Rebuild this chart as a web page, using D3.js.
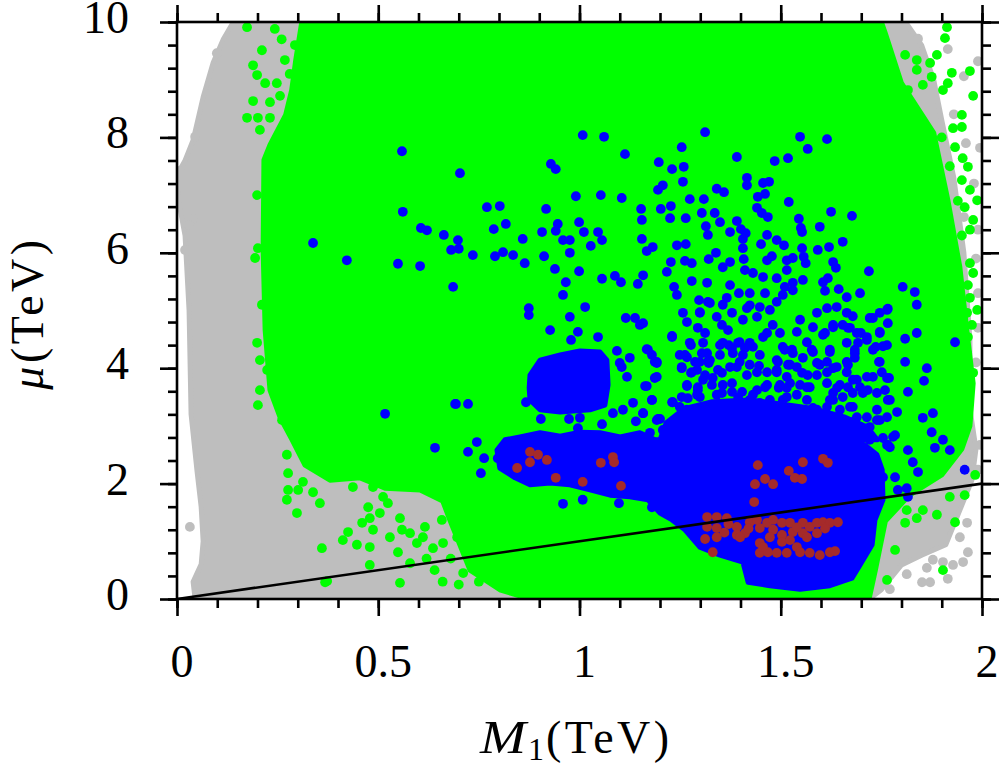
<!DOCTYPE html>
<html>
<head>
<meta charset="utf-8">
<script src="https://cdn.jsdelivr.net/npm/d3@7"></script>
<style>
  body { margin: 0; background: #fff; }
  svg { display: block; }
  text { font-family: "Liberation Serif", "DejaVu Serif", serif; fill: #000; }
</style>
</head>
<body>
<svg id="chart" width="999" height="767"></svg>
<script>
// M1 (TeV), mu (TeV)

// dense regions (outline of the solid clouds)
const grayArea = [[0.14,10],[1.81,10],[1.85,9.6],[1.88,9.0],[1.9,8.3],[1.93,7.3],[1.955,6.0],[1.97,4.5],[1.97,3.3],[1.985,2.6],[1.975,2.06],[1.945,1.54],[1.91,0.94],[1.85,0.76],[1.8,0.59],[1.75,0.16],[1.72,0],[0.045,0],[0.04,0.3],[0.06,0.6],[0.065,1.0],[0.06,1.6],[0.05,2.2],[0.035,3.2],[0.03,5.0],[0.02,6.3],[0.004,6.9],[0.0,7.35],[0.02,7.6],[0.04,7.95],[0.065,8.7],[0.09,9.3],[0.115,9.7]];

const greenArea = [[0.31,10],[1.75,10],[1.76,9.8],[1.8,8.94],[1.88,8.08],[1.915,6.92],[1.945,5.75],[1.963,4.61],[1.978,3.74],[1.97,3.0],[1.95,2.6],[1.9,2.15],[1.82,1.8],[1.76,1.35],[1.735,0.5],[1.72,0.02],[0.877,0.0],[0.802,0.16],[0.728,0.5],[0.678,1.37],[0.66,1.7],[0.604,1.89],[0.517,1.92],[0.455,2.1],[0.38,2.06],[0.318,2.32],[0.286,2.76],[0.256,3.15],[0.231,3.62],[0.219,4.66],[0.214,6.05],[0.216,7.61],[0.231,7.87],[0.27,8.39],[0.285,8.82],[0.295,9.34]];

const blueBlobA = [[0.877,3.88],[0.902,4.14],[0.952,4.23],[1.001,4.3],[1.051,4.28],[1.068,4.14],[1.071,3.71],[1.063,3.36],[1.026,3.28],[0.952,3.24],[0.902,3.28],[0.877,3.45],[0.875,3.66]];

const blueBlobB = [[0.795,2.58],[0.815,2.76],[0.852,2.81],[0.902,2.88],[0.952,2.82],[1.001,2.89],[1.051,2.88],[1.101,2.81],[1.15,2.88],[1.188,2.76],[1.225,2.76],[1.275,2.81],[1.324,2.76],[1.374,2.81],[1.424,2.76],[1.473,2.81],[1.523,2.76],[1.573,2.81],[1.622,2.76],[1.672,2.76],[1.709,2.67],[1.739,2.5],[1.752,2.24],[1.754,1.72],[1.734,1.37],[1.727,0.94],[1.697,0.59],[1.677,0.36],[1.622,0.23],[1.548,0.17],[1.473,0.23],[1.419,0.29],[1.406,0.64],[1.349,0.76],[1.299,0.9],[1.262,1.2],[1.23,1.37],[1.2,1.49],[1.17,1.72],[1.125,1.77],[1.076,1.8],[1.026,1.89],[0.976,1.98],[0.927,2.01],[0.877,1.98],[0.84,2.1],[0.802,2.27]];

// densest strip of the blue scatter just above the big blob
const blueCore = [[1.2,2.76],[1.215,3.05],[1.26,3.3],[1.33,3.42],[1.42,3.45],[1.5,3.38],[1.58,3.3],[1.66,3.15],[1.715,2.98],[1.74,2.76]];

// single points outside / on top of the dense regions
const grayDots = [[0.099,9.46],[0.045,8.01],[0.007,7.42],[0.04,6.59],[0.03,6.48],[0.02,6.05],[0.032,1.25],[1.841,9.71],[1.915,9.53],[1.99,9.32],[1.955,9.06],[1.995,7.82],[1.955,6.62],[1.851,0.29],[1.871,0.29],[1.915,0.35],[1.928,0.59],[1.953,0.64],[1.903,0.64],[1.965,0.81],[1.771,0.17],[1.813,0.43],[1.863,0.54],[1.878,0.68],[1.995,2.67],[1.97,2.41],[1.99,2.24],[1.963,1.32],[1.945,1.07],[1.99,5.3],[1.985,4.1],[1.99,6.4],[1.93,8.4],[1.96,7.9],[1.98,7.2],[1.985,5.9],[1.99,4.7]];

const greenDots = [[0.174,9.91],[0.243,9.88],[0.211,9.51],[0.189,9.25],[0.199,9.08],[0.219,8.94],[0.248,8.94],[0.256,8.72],[0.231,8.61],[0.189,8.63],[0.201,8.34],[0.231,8.34],[0.206,8.13],[0.174,8.34],[0.268,9.34],[0.293,9.6],[0.26,9.7],[0.28,9.1],[0.199,7.0],[0.201,6.08],[0.194,5.91],[0.211,5.1],[0.199,4.44],[0.206,4.14],[0.224,3.97],[0.206,3.62],[0.201,3.36],[0.251,3.5],[0.261,3.1],[0.273,2.5],[0.276,2.18],[0.276,1.89],[0.273,1.72],[0.298,1.49],[0.301,1.89],[0.313,2.03],[0.338,1.85],[0.355,1.66],[0.36,0.88],[0.368,0.29],[0.412,1.02],[0.425,1.16],[0.447,0.94],[0.46,1.32],[0.479,1.4],[0.487,1.2],[0.479,0.9],[0.479,0.59],[0.475,1.59],[0.504,1.49],[0.524,1.66],[0.529,1.07],[0.554,1.4],[0.559,1.2],[0.549,0.81],[0.579,1.14],[0.596,0.97],[0.611,1.07],[0.616,1.25],[0.636,0.88],[0.579,0.62],[0.554,0.28],[0.658,1.37],[0.661,0.97],[0.696,1.07],[0.711,0.45],[0.43,2.18],[0.412,2.41],[0.437,1.94],[0.487,1.94],[0.512,1.77],[0.373,0.31],[0.64,0.5],[0.68,0.7],[0.7,0.25],[0.75,0.3],[0.62,0.7],[0.66,0.3],[1.809,9.43],[1.838,9.34],[1.838,9.17],[1.871,9.29],[1.888,9.43],[1.908,9.72],[1.913,9.91],[1.97,9.15],[1.978,8.72],[1.925,9.12],[1.915,8.94],[1.903,8.82],[1.875,9.05],[1.853,8.91],[1.816,8.82],[1.95,8.39],[1.95,8.18],[1.928,8.16],[1.933,7.83],[1.952,7.64],[1.965,7.49],[1.95,7.26],[1.97,7.09],[1.988,6.91],[1.957,6.79],[1.978,6.57],[1.97,6.4],[1.97,5.82],[1.978,5.65],[1.965,5.44],[1.97,5.22],[1.988,5.01],[1.963,4.96],[1.975,4.75],[1.965,4.54],[1.963,4.26],[1.978,3.92],[1.97,3.74],[1.92,1.77],[1.933,1.33],[1.903,0.5],[1.764,0.33],[1.784,0.85],[1.809,1.32],[1.838,1.4],[1.888,1.46],[1.853,1.54],[1.813,1.54],[1.957,1.8],[1.983,2.15],[1.9,8.0],[1.92,7.5],[1.94,6.9],[1.95,6.3]];

const blueDots = [[0.559,7.76],[0.703,7.38],[0.561,6.71],[0.770,6.79],[0.802,6.81],[0.338,6.17],[0.422,5.87],[0.549,5.81],[0.604,5.77],[0.606,6.43],[0.621,6.39],[0.663,6.31],[0.698,6.22],[0.681,6.05],[0.7,6.07],[0.735,5.96],[0.787,6.41],[0.79,5.94],[0.686,5.41],
[0.517,3.21],[0.693,3.38],[0.723,3.38],[0.641,2.62],[0.723,2.55],[0.745,2.72],[0.763,2.44],[0.755,2.18],[0.797,2.44],
[1.312,8.09],[1.008,8.04],[1.061,8.01],[1.254,7.83],[1.548,8.01],[1.615,7.97],[1.567,7.8],[1.113,7.71],[1.391,7.66],[1.197,7.57],[1.485,7.59],[1.518,7.64],[0.929,7.54],[0.941,7.45],[1.23,7.45],[1.259,7.49],[1.257,7.23],[1.207,7.17],[1.195,7.09],[1.416,7.3],[1.416,7.17],[1.456,7.21],[1.471,7.23],[1.341,7.11],[1.359,7.05],[0.991,6.98],[1.053,7.0],[1.105,6.95],[1.274,6.93],[1.309,6.93],[1.443,6.97],[1.461,7.02],[1.52,6.88],
[0.917,6.76],[1.153,6.76],[1.202,6.76],[1.227,6.81],[1.625,6.71],[1.677,6.64],[1.441,6.78],[1.453,6.69],[1.468,6.62],[0.817,6.5],[0.999,6.53],[0.946,6.5],[0.941,6.38],[0.907,6.36],[1.011,6.36],[1.046,6.36],[1.155,6.57],[1.225,6.6],[1.264,6.6],[1.304,6.69],[1.336,6.69],[1.314,6.46],[1.349,6.53],[1.391,6.55],[1.401,6.41],[1.413,6.34],[1.545,6.59],[1.55,6.43],[1.553,6.36],[1.597,6.45],
[0.859,6.24],[0.959,6.22],[0.976,6.22],[1.056,6.22],[1.028,6.12],[1.155,6.24],[1.182,6.1],[1.167,6.03],[1.242,6.13],[1.264,6.15],[1.319,6.31],[1.374,6.36],[1.406,6.24],[1.406,6.08],[1.466,6.31],[1.451,6.15],[1.49,6.22],[1.508,6.13],[1.553,6.08],[1.592,6.05],[1.62,6.1],[1.654,6.19],
[0.81,6.01],[0.835,5.96],[0.912,5.94],[0.976,6.0],[0.864,5.82],[0.939,5.72],[0.999,5.68],[0.966,5.49],[1.056,5.55],[1.088,5.6],[1.103,5.49],[1.145,5.46],[1.158,5.61],[1.227,5.84],[1.217,5.67],[1.262,5.86],[1.279,5.82],[1.321,5.89],[1.339,6.0],[1.356,5.75],[1.374,5.84],[1.408,5.89],[1.411,5.7],[1.431,5.65],[1.456,5.58],[1.466,5.87],[1.478,5.94],[1.515,5.87],[1.515,5.7],[1.53,5.91],[1.562,5.82],[1.557,5.93],[1.63,5.84],[1.637,5.74],[1.719,5.68],
[1.49,5.56],[1.51,5.41],[1.53,5.48],[1.555,5.53],[1.605,5.49],[1.617,5.56],[1.61,5.34],[1.644,5.37],[1.664,5.23],[1.697,5.3],[1.803,5.41],[1.833,5.32],[1.838,5.1],
[0.874,5.04],[0.874,4.92],[0.959,5.27],[1.014,5.06],[0.976,4.89],[0.927,4.66],[0.996,4.63],[0.979,4.49],[1.046,4.54],[1.115,4.87],[1.138,4.87],[1.15,4.75],[1.23,4.56],[1.093,4.3],[1.167,4.33],[1.18,4.23],[1.187,4.11],[1.125,4.18],[1.1,4.09],[1.118,3.85],[1.192,3.85],[1.167,3.69],
[1.235,5.41],[1.242,5.27],[1.279,5.51],[1.317,5.48],[1.297,5.18],[1.319,5.15],[1.299,4.97],[1.374,5.44],[1.396,5.3],[1.423,5.3],[1.366,5.22],[1.356,5.1],[1.379,4.96],[1.416,5.04],[1.461,5.3],[1.49,5.15],[1.505,5.27],[1.53,5.35],
[1.679,4.9],[1.721,4.87],[1.746,4.96],[1.766,5.03],[1.766,4.78],[1.746,4.63],[1.63,4.75],[1.667,4.7],[1.699,4.61],[1.714,4.54],[1.605,4.58],[1.622,4.32],[1.684,4.32],[1.684,4.18],[1.667,4.06],[1.736,4.37],[1.754,4.38],[1.809,4.51],[1.838,4.61],[1.809,4.11],[1.863,4.0],[1.856,3.78],[1.816,3.59],[1.933,4.45],[1.744,4.11],[1.751,3.93],[1.769,3.83],[1.714,3.85],[1.689,3.8],[1.63,4.0],[1.597,4.06],[1.58,4.28],[1.53,4.26],[1.51,4.32],[1.49,4.14],[1.523,4.06],[1.49,3.97],[1.466,3.93],[1.446,4.04],[1.431,4.37],[1.411,4.35],[1.394,4.44],[1.381,4.26],[1.398,4.11],[1.374,4.02],[1.354,3.92],[1.331,3.83],[1.307,3.8],[1.292,3.97],[1.287,4.11],[1.267,4.19],[1.249,4.23],[1.254,4.02],[1.277,4.4],[1.304,4.26],[1.321,4.14],
[1.553,3.92],[1.567,3.88],[1.565,3.67],[1.523,3.74],[1.495,3.66],[1.461,3.67],[1.431,3.54],[1.379,3.59],[1.354,3.57],[1.292,3.54],[1.254,3.5],[1.63,3.57],[1.667,3.67],[1.716,3.62],[1.759,3.62],
[0.691,3.38],[0.867,3.41],[0.904,3.12],[0.974,3.12],[1.001,3.14],[0.996,2.96],[1.056,3.03],[1.105,4.02],[1.18,3.45],[1.133,3.4],[1.108,3.28],[1.083,3.22],[1.158,3.22],[1.14,3.08],[1.215,2.95],[1.2,3.12],[1.23,3.41],[1.249,3.33],[1.257,3.15],[1.294,3.29],[1.336,3.24],[1.341,3.07],[0.959,1.65],[1.008,1.72],[1.098,1.66],[1.18,1.59],[1.192,4.09],[1.277,3.92],[1.267,3.69],[1.294,3.62],[1.307,4.44],[1.317,4.26],[1.344,3.97],[1.321,4.09],[1.379,3.74],[1.404,3.59],[1.349,4.4],[1.371,4.4],
[1.257,3.22],[1.282,3.22],[1.366,2.98],[1.391,3.15],[1.423,3.14],[1.448,2.98],[1.515,3.5],[1.53,3.05],[1.565,3.24],[1.59,3.28],[1.605,3.05],[1.622,3.45],[1.64,3.66],[1.672,3.33],[1.679,3.07],[1.704,2.93],[1.754,2.79],[1.771,2.63],[1.764,3.15],[1.789,3.24],[1.771,3.45],[1.739,3.28],[1.704,3.57],[1.192,3.1],[1.207,2.93],[1.754,2.11],[1.784,2.11],[1.791,1.89],
[1.853,3.14],[1.878,3.22],[1.875,2.89],[1.903,2.76],[1.883,2.62],[1.92,2.58],[1.816,2.58],[1.828,2.37],[1.841,2.2],[1.813,1.92],[1.816,1.77],[1.957,2.24],[1.764,2.67],[1.784,2.84],[1.739,3.1],
[1.158,4.78],[1.23,4.54],[1.17,4.32],[1.192,4.11],[1.187,3.83],[1.163,3.69],[1.18,3.45],[1.232,3.41],[1.158,3.22],[1.195,3.12],[1.175,2.88],[1.217,2.93],
[1.257,4.96],[1.299,4.96],[1.324,5.13],[1.341,4.89],[1.267,4.8],[1.294,4.7],[1.312,4.61],[1.274,4.44],[1.262,4.23],[1.254,4.0],[1.279,3.93],[1.299,4.11],[1.324,4.14],[1.312,3.88],[1.267,3.71],[1.294,3.67],[1.329,3.71],[1.356,3.71],[1.269,3.48],[1.299,3.5],[1.267,3.28],[1.299,3.31],[1.341,3.54],[1.341,3.33],[1.374,3.36],[1.361,3.19],[1.394,3.5],[1.282,3.1],[1.324,3.05],[1.374,3.02],[1.257,2.84],[1.317,2.88],
[1.354,4.75],[1.369,4.66],[1.356,4.44],[1.349,4.23],[1.379,4.35],[1.398,4.45],[1.406,4.23],[1.391,4.02],[1.423,4.06],[1.416,3.88],[1.441,3.93],[1.448,4.23],[1.423,4.44],[1.456,4.54],[1.406,4.84],[1.441,4.89],[1.448,5.06],[1.423,5.09],[1.473,5.01],[1.48,4.75],[1.466,4.61],[1.498,4.61],[1.505,4.37],[1.528,4.32],[1.54,4.63],[1.548,4.84],[1.565,4.45],[1.577,4.32],[1.555,4.18],[1.54,4.02],[1.518,4.06],[1.493,4.11],[1.49,3.93],[1.515,3.85],[1.498,3.71],[1.515,3.66],[1.466,3.71],[1.441,3.62],[1.423,3.45],[1.448,3.4],[1.473,3.45],[1.48,3.28],[1.441,3.22],[1.416,3.22],[1.505,3.45],[1.54,3.54],[1.548,3.71],[1.572,3.67],[1.565,3.45],[1.58,3.31],[1.54,3.28],[1.523,3.1],[1.49,3.05],[1.466,2.98],[1.53,2.88],[1.565,2.93],[1.597,2.98],[1.615,2.88],[1.647,2.89],
[1.59,4.96],[1.615,5.04],[1.639,5.06],[1.58,4.71],[1.61,4.61],[1.63,4.71],[1.654,4.75],[1.672,4.7],[1.689,4.61],[1.714,4.49],[1.692,4.44],[1.664,4.44],[1.622,4.28],[1.615,4.11],[1.639,4.02],[1.664,4.11],[1.684,4.26],[1.664,3.93],[1.615,3.93],[1.59,4.09],[1.59,3.88],[1.615,3.74],[1.647,3.71],[1.679,3.8],[1.697,3.67],[1.679,3.57],[1.654,3.5],[1.63,3.45],[1.615,3.33],[1.647,3.28],[1.679,3.33],[1.689,3.15],[1.664,3.05],[1.714,3.15],[1.746,3.1],[1.721,2.98],[1.766,3.45],[1.739,3.57],[1.729,3.85],[1.764,3.83],[1.746,4.11],[1.729,4.32],[1.764,4.4],[1.746,4.61],[1.764,5.01],[1.729,4.87],[1.664,4.96],
[1.779,2.81],[1.721,2.76],[1.664,2.76],[1.766,2.67]];

const brownDots = [[0.877,2.55],[0.897,2.5],[0.919,2.41],[0.845,2.27],[0.941,2.1],[1.008,2.03],[1.053,2.36],[1.083,2.46],[1.086,2.37],[1.103,1.96],[0.877,2.37],
[1.443,2.32],[1.461,2.08],[1.436,1.99],[1.481,1.99],[1.434,1.68],[1.52,2.22],[1.535,2.1],[1.553,2.08],[1.555,2.37],[1.605,2.43],[1.617,2.36],
[1.317,1.42],[1.341,1.42],[1.366,1.4],[1.317,1.25],[1.341,1.23],[1.341,1.07],[1.312,1.04],[1.331,0.81],[1.391,1.25],[1.391,1.11],[1.411,1.14],[1.423,1.33],[1.441,1.37],[1.448,1.23],[1.466,1.32],[1.481,1.37],[1.481,1.2],[1.473,1.07],[1.503,1.32],[1.503,1.11],[1.503,0.99],[1.523,1.32],[1.53,1.16],[1.555,1.32],[1.555,1.14],[1.572,1.25],[1.59,1.32],[1.59,1.14],[1.605,1.33],[1.622,1.32],[1.642,1.33],[1.565,1.07],[1.523,1.02],[1.399,1.07],[1.37,1.3],[1.36,1.15],[1.42,1.22],[1.54,1.24],[1.61,1.22],
[1.448,0.97],[1.448,0.8],[1.468,0.81],[1.49,0.8],[1.515,0.8],[1.54,0.9],[1.548,0.81],[1.572,0.8],[1.597,0.76],[1.622,0.81],[1.635,0.83],[1.456,0.9]];

// reference line mu = M1
const lineM1 = [0, 2];
const lineMu = [0, 2];

const xTickValues = [0, 0.5, 1, 1.5, 2];
const xTickLabels = ["0", "0.5", "1", "1.5", "2"];
const yTickValues = [0, 2, 4, 6, 8, 10];
const yTickLabels = ["0", "2", "4", "6", "8", "10"];

const svg = d3.select('#chart');
const plotLeft = 177, plotRight = 982, plotTop = 22, plotBottom = 599;

const x = d3.scaleLinear().domain([0, 2]).range([plotLeft, plotRight]);
const y = d3.scaleLinear().domain([0, 10]).range([plotBottom, plotTop]);

svg.append('rect').attr('width', 999).attr('height', 767).attr('fill', '#fff');

svg.append('clipPath').attr('id', 'plot-clip')
  .append('rect')
  .attr('x', plotLeft).attr('y', plotTop)
  .attr('width', plotRight - plotLeft).attr('height', plotBottom - plotTop);

const plot = svg.append('g').attr('clip-path', 'url(#plot-clip)');

const area = d3.line().x(d => x(d[0])).y(d => y(d[1])).curve(d3.curveLinearClosed);

function drawArea(pts, color) {
  plot.append('path')
    .attr('d', area(pts))
    .attr('fill', color)
    .attr('stroke', color)
    .attr('stroke-width', 5)
    .attr('stroke-linejoin', 'round');
}

function drawDots(pts, color) {
  plot.append('g')
    .selectAll('circle')
    .data(pts)
    .join('circle')
    .attr('cx', d => x(d[0]))
    .attr('cy', d => y(d[1]))
    .attr('r', 4.9)
    .attr('fill', color);
}

const GRAY = '#bebebe', GREEN = '#00ff00', BLUE = '#0000ff', BROWN = '#a52a2a';

drawArea(grayArea, GRAY);
drawDots(grayDots, GRAY);
drawArea(greenArea, GREEN);
drawDots(greenDots, GREEN);
drawArea(blueCore, BLUE);
drawArea(blueBlobA, BLUE);
drawArea(blueBlobB, BLUE);
drawDots(blueDots, BLUE);
drawDots(brownDots, BROWN);

plot.append('path')
  .datum(lineM1.map((m, i) => [m, lineMu[i]]))
  .attr('d', d3.line().x(d => x(d[0])).y(d => y(d[1])))
  .attr('stroke', '#000')
  .attr('stroke-width', 2.6)
  .attr('fill', 'none');

// ticks on all four sides, pointing out
const xMinor = d3.range(0, 2.0001, 0.1);
const yMinor = d3.range(0, 10.001, 0.4);

function ticks(axis, vals, size, transform) {
  const g = svg.append('g').attr('transform', transform)
    .call(axis.tickValues(vals).tickSize(size).tickFormat(''));
  g.select('.domain').remove();
  g.selectAll('line').attr('stroke', '#000').attr('stroke-width', 2.6);
}

ticks(d3.axisBottom(x), xMinor, 9, `translate(0,${plotBottom})`);
ticks(d3.axisBottom(x), xTickValues, 17, `translate(0,${plotBottom})`);
ticks(d3.axisTop(x), xMinor, 9, `translate(0,${plotTop})`);
ticks(d3.axisTop(x), xTickValues, 17, `translate(0,${plotTop})`);
ticks(d3.axisLeft(y), yMinor, 9, `translate(${plotLeft},0)`);
ticks(d3.axisLeft(y), yTickValues, 17, `translate(${plotLeft},0)`);
ticks(d3.axisRight(y), yMinor, 9, `translate(${plotRight},0)`);
ticks(d3.axisRight(y), yTickValues, 17, `translate(${plotRight},0)`);

svg.append('rect')
  .attr('x', plotLeft).attr('y', plotTop)
  .attr('width', plotRight - plotLeft).attr('height', plotBottom - plotTop)
  .attr('fill', 'none').attr('stroke', '#000').attr('stroke-width', 2.6);

svg.append('g').selectAll('text')
  .data(xTickValues)
  .join('text')
  .attr('x', d => x(d) + 5)
  .attr('y', 677)
  .attr('text-anchor', 'middle')
  .attr('font-size', 46)
  .text((d, i) => xTickLabels[i]);

svg.append('g').selectAll('text')
  .data(yTickValues)
  .join('text')
  .attr('x', 129)
  .attr('y', d => y(d) + 11)
  .attr('text-anchor', 'end')
  .attr('font-size', 46)
  .text((d, i) => yTickLabels[i]);

const xTitle = svg.append('text')
  .attr('x', 480).attr('y', 753)
  .attr('font-size', 46);
xTitle.append('tspan').attr('font-style', 'italic').attr('font-size', 46)
  .attr('textLength', 46).attr('lengthAdjust', 'spacingAndGlyphs').text('M');
xTitle.append('tspan').attr('x', 528).attr('font-size', 32).attr('dy', 7).text('1');
xTitle.append('tspan').attr('x', 546).attr('dy', -7).attr('letter-spacing', 3.5).text('(TeV)');

const yTitle = svg.append('text')
  .attr('transform', 'translate(43,313) rotate(-90)')
  .attr('text-anchor', 'middle')
  .attr('font-size', 46)
  .attr('letter-spacing', 3.5);
yTitle.append('tspan').attr('font-style', 'italic').text('μ');
yTitle.append('tspan').text('(TeV)');
</script>
</body>
</html>
